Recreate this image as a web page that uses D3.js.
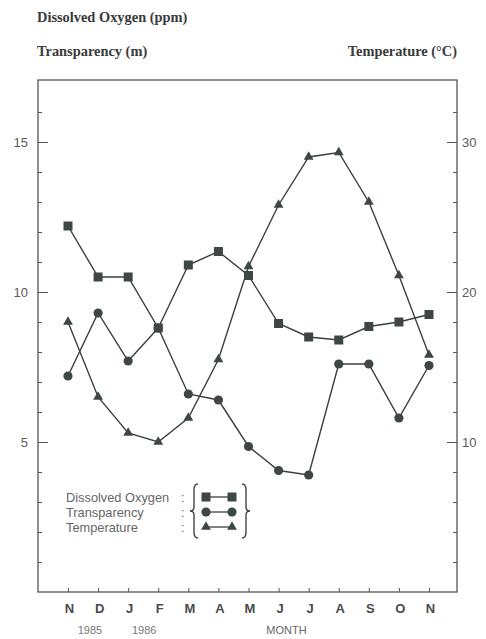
<!DOCTYPE html>
<html>
<head>
<meta charset="utf-8">
<script src="https://cdn.jsdelivr.net/npm/d3@7"></script>
<style>
  html, body { margin: 0; padding: 0; background: #fff; }
  svg { display: block; }
</style>
</head>
<body>
<script>
const months = ["N","D","J","F","M","A","M","J","J","A","S","O","N"];
const dissolvedOxygen = [12.2, 10.5, 10.5, 8.8, 10.9, 11.35, 10.55, 8.95, 8.5, 8.4, 8.85, 9.0, 9.25];
const transparency = [7.2, 9.3, 7.7, 8.8, 6.6, 6.4, 4.85, 4.05, 3.9, 7.6, 7.6, 5.8, 7.55];
const temperature = [18.0, 13.0, 10.6, 10.0, 11.6, 15.5, 21.7, 25.8, 29.0, 29.3, 26.0, 21.1, 15.8];
const leftTicks = [5, 10, 15];
const rightTicks = [10, 20, 30];
const yearLabels = ["1985", "1986"];
const yearMonthIndex = [0, 2];

const W = 486, H = 639;
const frame = {left: 38, right: 457, top: 80, bottom: 592};
const ink = "#3c3f3d";
const markFill = "#3f4743";
const textGray = "#5a5a5a";

const svg = d3.select("body").append("svg").attr("width", W).attr("height", H);

const idx = d3.range(months.length);
const x = d3.scalePoint().domain(idx).range([68, 429]);
const yL = d3.scaleLinear().domain([0, (frame.bottom - frame.top) / 30]).range([frame.bottom, frame.top]);
const yR = d3.scaleLinear().domain([0, (frame.bottom - frame.top) / 15]).range([frame.bottom, frame.top]);

// Titles
const serif = "'Liberation Serif', 'DejaVu Serif', serif";
function title(tx, ty, anchor, str) {
  svg.append("text").attr("x", tx).attr("y", ty).attr("text-anchor", anchor).text(str)
    .attr("font-family", serif).attr("font-weight", "bold").attr("font-size", 14.4).attr("fill", "#3a3a3a");
}
title(37, 22, "start", "Dissolved Oxygen (ppm)");
title(37, 56, "start", "Transparency (m)");
title(457, 56, "end", "Temperature (\u00B0C)");

// Frame
svg.append("rect").attr("x", frame.left).attr("y", frame.top)
  .attr("width", frame.right - frame.left).attr("height", frame.bottom - frame.top)
  .attr("fill", "none").attr("stroke", "#555").attr("stroke-width", 1.3);

const sans = "'Liberation Sans', Arial, sans-serif";
function styleAxis(g) {
  g.select(".domain").remove();
  g.selectAll("line").attr("stroke", "#555").attr("stroke-width", 1);
  g.selectAll("text").attr("font-family", sans).attr("fill", textGray).attr("font-size", 13);
}

// Left axis
svg.append("g").attr("transform", `translate(${frame.left},0)`)
  .call(d3.axisLeft(yL).tickValues(d3.range(1, 17)).tickSize(-4).tickFormat(""))
  .call(styleAxis);
svg.append("g").attr("transform", `translate(${frame.left},0)`)
  .call(d3.axisLeft(yL).tickValues(leftTicks).tickSize(-10).tickPadding(10).tickFormat(d3.format("d")))
  .call(styleAxis);

// Right axis
svg.append("g").attr("transform", `translate(${frame.right},0)`)
  .call(d3.axisRight(yR).tickValues(d3.range(2, 34, 2)).tickSize(-4).tickFormat(""))
  .call(styleAxis);
svg.append("g").attr("transform", `translate(${frame.right},0)`)
  .call(d3.axisRight(yR).tickValues(rightTicks).tickSize(-10).tickPadding(5).tickFormat(d3.format("d")))
  .call(styleAxis);

// Bottom axis
const xa = svg.append("g").attr("transform", `translate(0,${frame.bottom})`)
  .call(d3.axisBottom(x).tickSize(-4).tickPadding(12).tickFormat(i => months[i]))
  .call(styleAxis);
xa.selectAll("text").attr("font-size", 13).attr("fill", "#4a4a4a").attr("font-weight", "bold").attr("dx", 1);

const yearShift = [22, 16];
svg.selectAll(".year").data(yearLabels).enter().append("text")
  .attr("x", (d, k) => x(yearMonthIndex[k]) + yearShift[k]).attr("y", 634).attr("text-anchor", "middle")
  .text(d => d).attr("font-family", sans).attr("font-size", 11).attr("fill", "#777");
svg.append("text").attr("x", x(6) + 38).attr("y", 634).attr("text-anchor", "middle").text("MONTH")
  .attr("font-family", sans).attr("font-size", 11).attr("fill", "#666");

// Series
const series = [
  {name: "Dissolved Oxygen", values: dissolvedOxygen, y: yL, shape: "square"},
  {name: "Transparency", values: transparency, y: yL, shape: "circle"},
  {name: "Temperature", values: temperature, y: yR, shape: "triangle"}
];

function drawMarker(g, shape, cx, cy) {
  if (shape === "square") {
    g.append("rect").attr("x", cx - 4.5).attr("y", cy - 4.5).attr("width", 9).attr("height", 9).attr("fill", markFill);
  } else if (shape === "circle") {
    g.append("circle").attr("cx", cx).attr("cy", cy).attr("r", 4.6).attr("fill", markFill);
  } else {
    g.append("path").attr("d", d3.symbol(d3.symbolTriangle, 42)()).attr("transform", `translate(${cx},${cy})`).attr("fill", markFill);
  }
}

series.forEach(s => {
  const line = d3.line().x((d, i) => x(i)).y(d => s.y(d));
  svg.append("path").datum(s.values).attr("d", line)
    .attr("fill", "none").attr("stroke", ink).attr("stroke-width", 1.4);
});
series.forEach(s => {
  const g = svg.append("g");
  s.values.forEach((v, i) => drawMarker(g, s.shape, x(i), s.y(v)));
});

// Legend
const lg = svg.append("g");
const rowsY = [497, 512, 527];
series.forEach((s, k) => {
  lg.append("text").attr("x", 66).attr("y", rowsY[k] + 4.5).text(s.name)
    .attr("font-family", sans).attr("font-size", 12.8).attr("fill", "#666");
  lg.append("text").attr("x", 181).attr("y", rowsY[k] + 4.5).text(":")
    .attr("font-family", sans).attr("font-size", 12.8).attr("fill", "#666");
  lg.append("line").attr("x1", 206).attr("x2", 232).attr("y1", rowsY[k]).attr("y2", rowsY[k])
    .attr("stroke", ink).attr("stroke-width", 1.3);
  drawMarker(lg, s.shape, 206, rowsY[k]);
  drawMarker(lg, s.shape, 232, rowsY[k]);
});
// Braces
function brace(xc, y0, y1, dir) {
  const m = (y0 + y1) / 2, w = 4 * dir;
  return `M${xc + w},${y0} Q${xc},${y0} ${xc},${y0 + 6} L${xc},${m - 4} Q${xc},${m} ${xc - w},${m} Q${xc},${m} ${xc},${m + 4} L${xc},${y1 - 6} Q${xc},${y1} ${xc + w},${y1}`;
}
lg.append("path").attr("d", brace(194, 484, 538, 1)).attr("fill", "none").attr("stroke", "#444").attr("stroke-width", 1.4);
lg.append("path").attr("d", brace(246, 484, 538, -1)).attr("fill", "none").attr("stroke", "#444").attr("stroke-width", 1.4);
</script>
</body>
</html>
